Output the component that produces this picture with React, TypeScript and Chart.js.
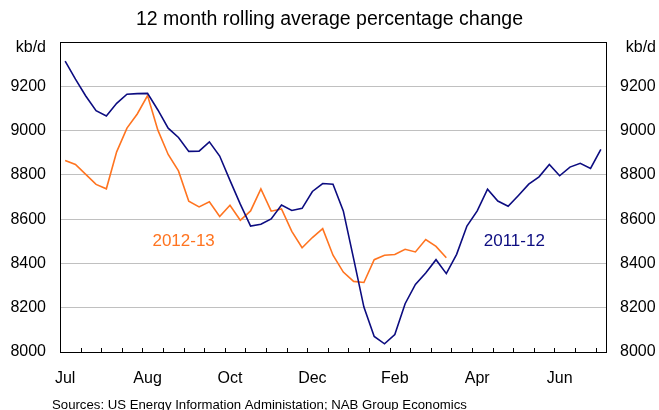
import React, { useEffect, useRef } from 'react';
import { Chart, registerables } from 'chart.js';

Chart.register(...registerables);

const FONT = '"Liberation Sans", Arial, sans-serif';

// 53 weekly observations, July to June
const weeks: string[] = Array.from({ length: 53 }, (_, i) => `W${i + 1}`);

const monthTickLabels = ['Jul', 'Aug', 'Oct', 'Dec', 'Feb', 'Apr', 'Jun'];
const monthTickWeeks = [0, 8, 16, 24, 32, 40, 48];

const series2011 = [
  9314, 9232, 9156, 9090, 9066, 9123, 9164, 9167, 9168, 9093,
  9011, 8969, 8906, 8907, 8949, 8885, 8775, 8668, 8569, 8577,
  8601, 8664, 8639, 8649, 8725, 8761, 8758, 8637, 8422, 8203,
  8070, 8037, 8079, 8218, 8305, 8357, 8417, 8354, 8441, 8569,
  8637, 8735, 8682, 8658, 8707, 8758, 8791, 8847, 8796, 8835,
  8852, 8829, 8915,
];

const series2012 = [
  8865, 8847, 8802, 8757, 8737, 8904, 9011, 9075, 9158, 9002,
  8892, 8818, 8681, 8655, 8678, 8612, 8663, 8595, 8637, 8737,
  8636, 8646, 8545, 8471, 8517, 8557, 8437, 8361, 8319, 8314,
  8417, 8437, 8440, 8464, 8452, 8508, 8477, 8426,
];

const yMin = 8000;
const yMax = 9400;
const yStep = 200;

const unitLabel = 'kb/d';
const titleText = '12 month rolling average percentage change';
const sourceText = 'Sources: US Energy Information Administation; NAB Group Economics';

const seriesNames = ['2011-12', '2012-13'];
const seriesColors = ['#0c0c80', '#ff7420'];
// label anchors in data space: [week index, value]
const seriesLabelAnchors: [number, number][] = [
  [43.6, 8500],
  [11.5, 8500],
];

const decorPlugin = {
  id: 'decor',
  beforeDatasetsDraw(chart: any) {
    const { ctx, chartArea: a, scales } = chart;
    const x = scales.x;
    ctx.save();
    ctx.strokeStyle = '#000';
    ctx.lineWidth = 1;
    const half = (x.getPixelForValue(1) - x.getPixelForValue(0)) / 2;
    ctx.beginPath();
    for (let i = 2; i < weeks.length; i += 2) {
      const px = Math.round(x.getPixelForValue(i) - half) + 0.5;
      ctx.moveTo(px, a.bottom);
      ctx.lineTo(px, a.bottom - 4);
    }
    ctx.stroke();
    ctx.strokeRect(
      Math.round(a.left) + 0.5,
      Math.round(a.top) + 0.5,
      Math.round(a.right) - Math.round(a.left),
      Math.round(a.bottom) - Math.round(a.top)
    );
    ctx.restore();
  },
  afterDraw(chart: any) {
    const { ctx, chartArea: a, scales } = chart;
    ctx.save();
    ctx.fillStyle = '#000';
    ctx.font = `16px ${FONT}`;
    ctx.textBaseline = 'middle';
    ctx.textAlign = 'right';
    ctx.fillText(unitLabel, a.left - 14, a.top + 5.5);
    ctx.fillText(unitLabel, a.right + 50, a.top + 5.5);

    ctx.font = `17px ${FONT}`;
    ctx.textAlign = 'center';
    seriesNames.forEach((name, i) => {
      const [wx, wy] = seriesLabelAnchors[i];
      ctx.fillStyle = seriesColors[i];
      ctx.fillText(name, scales.x.getPixelForValue(wx), scales.y.getPixelForValue(wy));
    });

    ctx.fillStyle = '#000';
    ctx.font = `13.2px ${FONT}`;
    ctx.textAlign = 'left';
    ctx.textBaseline = 'alphabetic';
    ctx.fillText(sourceText, 52, 409);
    ctx.restore();
  },
};

export default function App() {
  const canvasRef = useRef<HTMLCanvasElement | null>(null);

  useEffect(() => {
    const canvas = canvasRef.current;
    if (!canvas) return;
    const yTickCallback = (v: any) => (Number(v) === yMax ? '' : String(v));
    const chart = new Chart(canvas, {
      type: 'line',
      data: {
        labels: weeks,
        datasets: [
          {
            label: seriesNames[0],
            data: series2011,
            borderColor: seriesColors[0],
            borderWidth: 1.6,
            pointRadius: 0,
            tension: 0,
            fill: false,
            yAxisID: 'y',
          },
          {
            label: seriesNames[1],
            data: series2012,
            borderColor: seriesColors[1],
            borderWidth: 1.6,
            pointRadius: 0,
            tension: 0,
            fill: false,
            yAxisID: 'y',
          },
        ],
      },
      options: {
        responsive: false,
        animation: false,
        layout: { padding: 0 },
        plugins: {
          legend: { display: false },
          tooltip: { enabled: false },
          title: {
            display: true,
            text: titleText,
            color: '#000',
            font: { family: FONT, size: 19.5, weight: 'normal' },
            padding: { top: 8, bottom: 10.6 },
          },
        },
        scales: {
          x: {
            type: 'category',
            offset: true,
            grid: { display: false, drawTicks: false },
            border: { display: false },
            ticks: {
              autoSkip: false,
              maxRotation: 0,
              minRotation: 0,
              padding: 17,
              color: '#000',
              font: { family: FONT, size: 16 },
              callback: (_v: any, i: number) => {
                const k = monthTickWeeks.indexOf(i);
                return k >= 0 ? monthTickLabels[k] : '';
              },
            },
            afterFit: (s: any) => {
              s.height = 58;
            },
          },
          y: {
            position: 'left',
            min: yMin,
            max: yMax,
            ticks: {
              stepSize: yStep,
              padding: 14,
              color: '#000',
              font: { family: FONT, size: 16 },
              callback: yTickCallback,
            },
            grid: {
              drawTicks: false,
              lineWidth: 1,
              color: (c: any) =>
                c.tick && (c.tick.value === yMin || c.tick.value === yMax)
                  ? 'rgba(0,0,0,0)'
                  : '#c0c0c0',
            },
            border: { display: false },
            afterFit: (s: any) => {
              s.width = 60;
            },
          },
          y2: {
            position: 'right',
            min: yMin,
            max: yMax,
            ticks: {
              stepSize: yStep,
              padding: 14,
              color: '#000',
              font: { family: FONT, size: 16 },
              callback: yTickCallback,
            },
            grid: { display: false, drawTicks: false },
            border: { display: false },
            afterFit: (s: any) => {
              s.width = 53;
            },
          },
        },
      } as any,
      plugins: [decorPlugin],
    });
    return () => chart.destroy();
  }, []);

  return (
    <div style={{ position: 'fixed', left: 0, top: 0, width: 659, height: 410, background: '#fff' }}>
      <canvas ref={canvasRef} width={659} height={410} style={{ display: 'block' }} />
    </div>
  );
}
